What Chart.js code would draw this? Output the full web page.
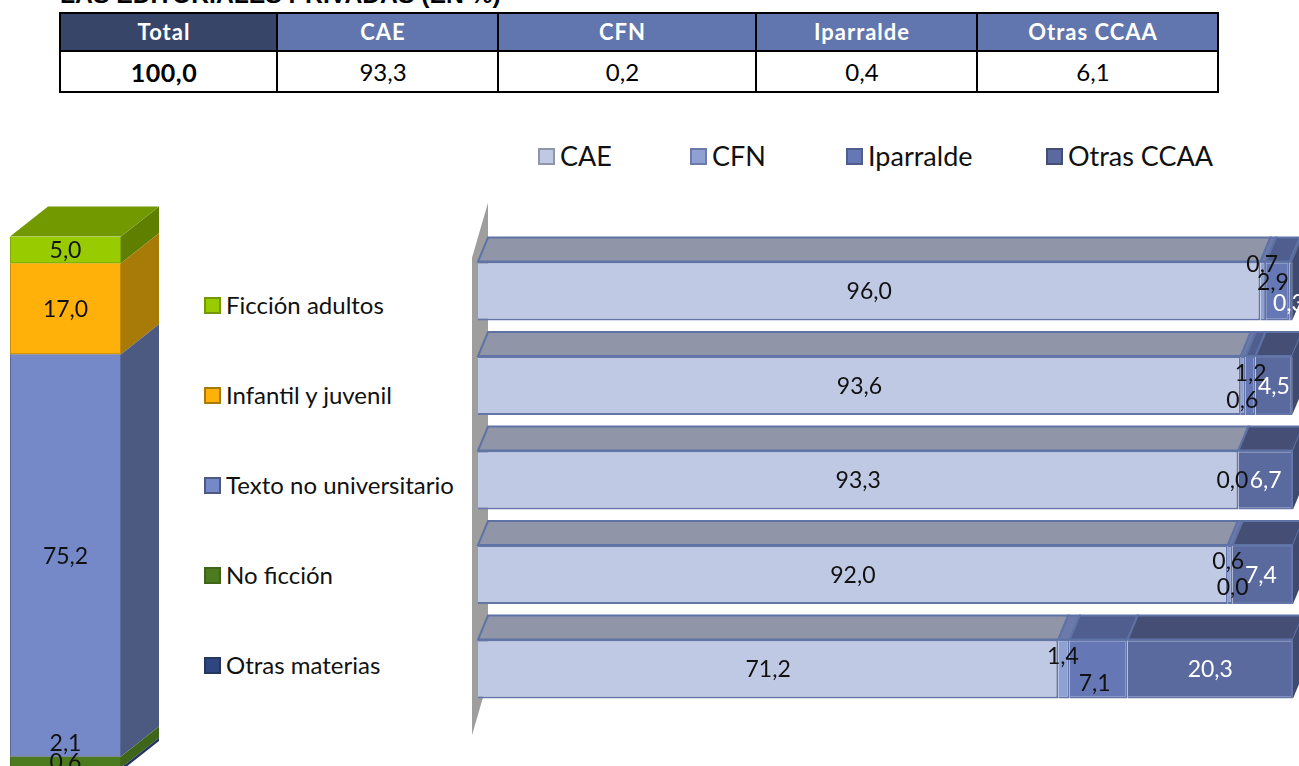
<!DOCTYPE html>
<html>
<head>
<meta charset="utf-8">
<script src="https://cdn.jsdelivr.net/npm/chart.js@4"></script>
<style>
    html, body { margin: 0; width: 1299px; height: 766px; overflow: hidden; background: #fff; }
    canvas { position: absolute; }
    #titulo { position: absolute; left: 60px; top: -19px; font: bold 24.7px "Liberation Sans"; color: #000; white-space: nowrap; }
    table { position: absolute; left: 59px; top: 12px; width: 1158px; height: 79px; border-collapse: collapse; table-layout: fixed; font-family: Lato; }
    td, th { border: 2px solid #000; text-align: center; padding: 0 9px 0 0; }
    th { height: 34px; background: #6176ae; color: #fff; font-size: 22px; font-weight: bold; letter-spacing: 1px; padding-bottom: 2px; }
    th.total { background: #374569; }
    td { font-size: 24px; height: 39px; }
    td.total { font-weight: bold; font-size: 25px; letter-spacing: 0.5px; }
    .leg { position: absolute; color: #111; white-space: nowrap; line-height: 30px; }
    .leg i { position: absolute; top: 7px; width: 13px; height: 13px; border: 2px solid #8a9ac0; }
</style>
</head>
<body>
<div id="titulo">LAS EDITORIALES PRIVADAS (EN %)</div>
<table id="tabla"></table>
<canvas id="columna" width="180" height="600" style="left:0;top:190px"></canvas>
<canvas id="barras" width="839" height="560" style="left:460px;top:190px"></canvas>
<div id="leyendas"></div>
<script>
var colTabla = ["Total", "CAE", "CFN", "Iparralde", "Otras CCAA"];
var valTabla = ["100,0", "93,3", "0,2", "0,4", "6,1"];
var anchoTabla = [217, 221, 258, 221, 241];

var materias = ["Ficción adultos", "Infantil y juvenil", "Texto no universitario", "No ficción", "Otras materias"];
var pesoMaterias = [5.0, 17.0, 75.2, 2.1, 0.6];

var territorios = ["CAE", "CFN", "Iparralde", "Otras CCAA"];
var cae = [96.0, 93.6, 93.3, 92.0, 71.2];
var cfn = [0.7, 0.6, null, 0.6, 1.4];
var iparralde = [2.9, 1.2, 0.0, 0.0, 7.1];
var otras = [0.3, 4.5, 6.7, 7.4, 20.3];

// colores: frente, cara superior, cara lateral
var coloresMaterias = [
    ["#99cc00", "#739900", "#5f7f00"],
    ["#ffb10a", "#a87a08", "#a87a08"],
    ["#7589c8", "#4c5a82", "#4c5a82"],
    ["#4c7a1e", "#3f6519", "#3f6519"],
    ["#2f4580", "#25365f", "#25365f"]
];
var coloresTerr = [
    ["#c0c9e3", "#9096a8", "#9096a8"],
    ["#8fa0d3", "#6b7aa8", "#6b7aa8"],
    ["#6578b5", "#4f5e8e", "#4f5e8e"],
    ["#5a6a9e", "#454f75", "#3f4a70"]
];

// desplazamiento manual de etiquetas [dataset][fila] como en el original
var ajusteBarras = {
    "1-0": [-1, -27], "2-0": [-5, -9], "3-0": [-2, 12],
    "1-1": [-1, 14], "2-1": [0, -13],
    "2-2": [-6, 0],
    "1-3": [-2, -14], "2-3": [0, 12], "3-3": [-2, 0],
    "1-4": [-1, -13], "2-4": [-4, 14]
};
var ajusteColumna = { "3-0": [0, -20], "4-0": [0, -8] };

function caras(fondoX, fondoY, horizontal) {
    return {
        id: "caras",
        beforeDatasetsDraw: function (chart) {
            var ctx = chart.ctx;
            function poligono(p, relleno, borde) {
                ctx.beginPath();
                ctx.moveTo(p[0][0], p[0][1]);
                for (var k = 1; k < p.length; k++) ctx.lineTo(p[k][0], p[k][1]);
                ctx.closePath();
                ctx.fillStyle = relleno;
                ctx.fill();
                if (borde) {
                    ctx.strokeStyle = borde;
                    ctx.lineWidth = 2;
                    ctx.stroke();
                }
            }
            ctx.save();
            if (horizontal) {
                var a = chart.chartArea;
                var xw = a.left - 6;
                poligono([[xw, a.top + 14], [xw + 16, a.top - 41], [xw + 16, a.bottom - 36], [xw, a.bottom + 19]], "#9e9e9e");
            }
            chart.data.datasets.forEach(function (ds, d) {
                chart.getDatasetMeta(d).data.forEach(function (el, i) {
                    if (ds.data[i] === null) return;
                    var p = el.getProps(["x", "y", "base", "width", "height"], true);
                    var c = ds.caras;
                    if (horizontal) {
                        var t = p.y - p.height / 2, b = p.y + p.height / 2;
                        poligono([[p.base, t], [p.base + fondoX, t - fondoY], [p.x + fondoX, t - fondoY], [p.x, t]], c[1], "#5e72a5");
                        if (d === chart.data.datasets.length - 1) {
                            poligono([[p.x, t], [p.x + fondoX, t - fondoY], [p.x + fondoX, b - fondoY], [p.x, b]], c[2]);
                        }
                    } else {
                        var r = p.x + p.width / 2, l = p.x - p.width / 2;
                        var arriba = Math.min(p.y, p.base), abajo = Math.max(p.y, p.base);
                        poligono([[r, arriba], [r + fondoX, arriba - fondoY], [r + fondoX, abajo - fondoY], [r, abajo]], c[2]);
                        if (d === 0) {
                            poligono([[l, arriba], [l + fondoX, arriba - fondoY], [r + fondoX, arriba - fondoY], [r, arriba]], c[1]);
                        }
                    }
                });
            });
            ctx.restore();
        }
    };
}

function etiquetas(ajuste, tamano, colorDe) {
    return {
        id: "etiquetas",
        afterDatasetsDraw: function (chart) {
            var ctx = chart.ctx;
            ctx.save();
            ctx.font = tamano + "px Lato";
            ctx.textAlign = "center";
            ctx.textBaseline = "middle";
            chart.data.datasets.forEach(function (ds, d) {
                chart.getDatasetMeta(d).data.forEach(function (el, i) {
                    if (ds.data[i] === null) return;
                    var c = el.getCenterPoint();
                    var aj = ajuste[d + "-" + i] || [0, 0];
                    ctx.fillStyle = colorDe(d);
                    ctx.fillText(ds.data[i].toFixed(1).replace(".", ","), c.x + aj[0], c.y + aj[1] + 1);
                });
            });
            ctx.restore();
        }
    };
}

new Chart(document.getElementById("columna"), {
    type: "bar",
    data: {
        labels: ["Total"],
        datasets: materias.map(function (m, i) {
            return {
                label: m,
                data: [pesoMaterias[i]],
                backgroundColor: coloresMaterias[i][0],
                borderColor: coloresMaterias[i][1],
                borderWidth: 1,
                caras: coloresMaterias[i],
                categoryPercentage: 1,
                barPercentage: 1
            };
        })
    },
    options: {
        responsive: false,
        animation: false,
        layout: { padding: { left: 10, right: 59, top: 46.5, bottom: 18.5 } },
        plugins: { legend: { display: false }, tooltip: { enabled: false } },
        scales: {
            x: { display: false, stacked: true },
            y: { display: false, stacked: true, reverse: true, min: 0, max: 100 }
        }
    },
    plugins: [caras(38, 30, false), etiquetas(ajusteColumna, 23, function () { return "#111"; })]
});

new Chart(document.getElementById("barras"), {
    type: "bar",
    data: {
        labels: materias,
        datasets: [cae, cfn, iparralde, otras].map(function (serie, i) {
            return {
                label: territorios[i],
                data: serie,
                backgroundColor: coloresTerr[i][0],
                borderColor: "#6476a8",
                borderWidth: 2,
                caras: coloresTerr[i],
                categoryPercentage: 1,
                barPercentage: 0.624
            };
        })
    },
    options: {
        indexAxis: "y",
        responsive: false,
        animation: false,
        layout: { padding: { left: 18, right: 6, top: 53.75, bottom: 33.75 } },
        plugins: { legend: { display: false }, tooltip: { enabled: false } },
        scales: {
            x: { display: false, stacked: true, min: 0, max: 100 },
            y: { display: false, stacked: true }
        }
    },
    plugins: [caras(10, 24, true), etiquetas(ajusteBarras, 23, function (d) { return d === 3 ? "#fff" : "#111"; })]
});

// tabla y leyendas
var tabla = document.getElementById("tabla");
tabla.innerHTML = "<colgroup>" + anchoTabla.map(function (w) { return '<col style="width:' + w + 'px">'; }).join("") + "</colgroup><tr>" +
    colTabla.map(function (c, i) { return "<th" + (i === 0 ? ' class="total"' : "") + ">" + c + "</th>"; }).join("") + "</tr><tr>" +
    valTabla.map(function (v, i) { return "<td" + (i === 0 ? ' class="total"' : "") + ">" + v + "</td>"; }).join("") + "</tr>";

var leyendas = document.getElementById("leyendas");
function entrada(texto, c, xCaja, y, tamano) {
    var d = document.createElement("div");
    d.className = "leg";
    d.style.left = (xCaja + 22) + "px";
    d.style.top = (y - 15) + "px";
    d.style.font = tamano + "px/30px Lato";
    d.innerHTML = '<i style="left:-22px;background:' + c[0] + ';border-color:' + c[1] + '"></i>' + texto;
    leyendas.appendChild(d);
}
var xTerr = [538, 690, 846, 1046];
territorios.forEach(function (t, i) { entrada(t, coloresTerr[i], xTerr[i], 156, 27); });
materias.forEach(function (m, i) { entrada(m, coloresMaterias[i], 204, 305 + i * 90, 24); });
</script>
</body>
</html>
